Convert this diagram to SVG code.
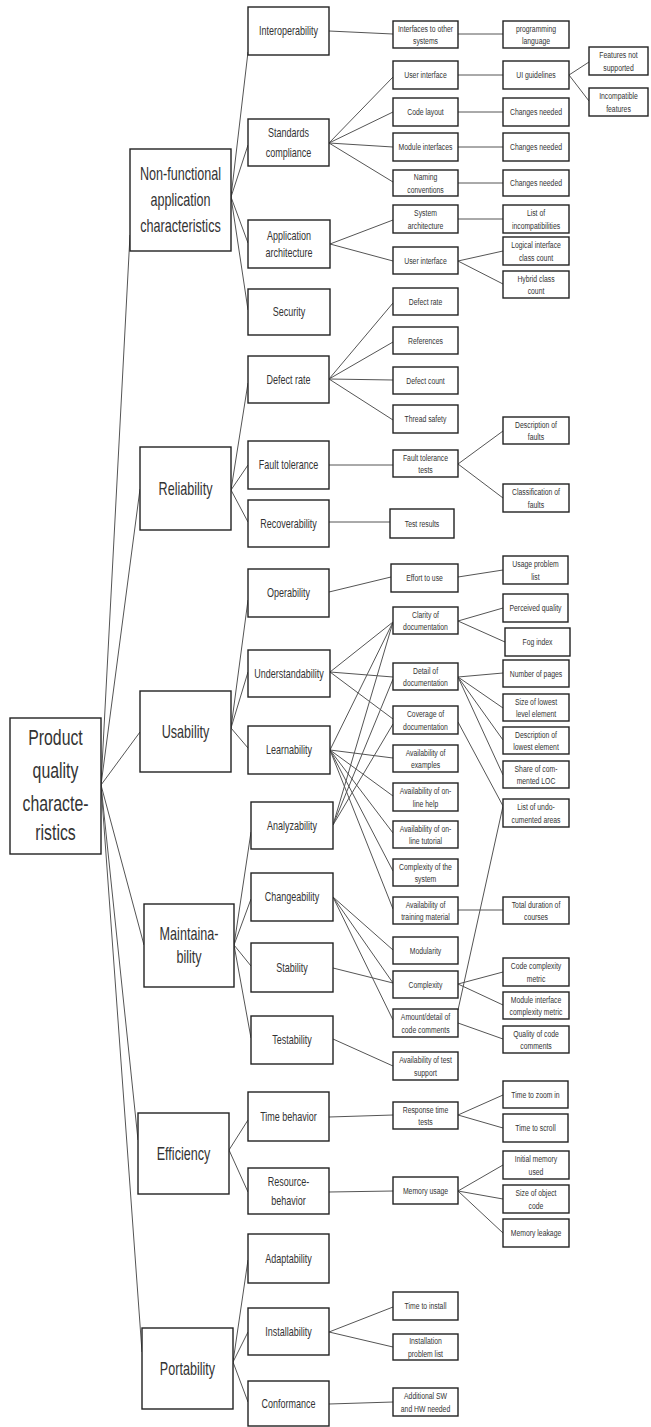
<svg xmlns="http://www.w3.org/2000/svg" width="651" height="1427" viewBox="0 0 651 1427">
<style>
rect{fill:#fff;stroke:#222;stroke-width:1.4}
text{font-family:"Liberation Sans",Arial,sans-serif;fill:#333;text-anchor:middle}
.t0{font-size:22px}
.t1{font-size:17.5px}
.t2{font-size:12.5px}
.t3{font-size:9.5px}
#connectors line{stroke:#555;stroke-width:1}
</style>
<rect x="0" y="0" width="651" height="1427" style="fill:#fff;stroke:none"/>
<g id="connectors">
<line x1="101" y1="785" x2="130" y2="235"/>
<line x1="101" y1="785" x2="140" y2="489"/>
<line x1="101" y1="785" x2="140" y2="732"/>
<line x1="101" y1="785" x2="144" y2="945"/>
<line x1="101" y1="785" x2="138" y2="1140"/>
<line x1="101" y1="785" x2="142" y2="1352"/>
<line x1="231" y1="197" x2="248" y2="52"/>
<line x1="231" y1="197" x2="248" y2="145"/>
<line x1="231" y1="197" x2="248" y2="243"/>
<line x1="231" y1="197" x2="248" y2="310"/>
<line x1="231" y1="490" x2="248" y2="383"/>
<line x1="231" y1="490" x2="248" y2="465"/>
<line x1="231" y1="490" x2="248" y2="522"/>
<line x1="231" y1="728" x2="248" y2="600"/>
<line x1="231" y1="728" x2="248" y2="672"/>
<line x1="231" y1="728" x2="248" y2="748"/>
<line x1="234" y1="945" x2="251" y2="832"/>
<line x1="234" y1="945" x2="251" y2="899"/>
<line x1="234" y1="945" x2="251" y2="966"/>
<line x1="234" y1="945" x2="251" y2="1038"/>
<line x1="229" y1="1150" x2="248" y2="1120"/>
<line x1="229" y1="1150" x2="248" y2="1192"/>
<line x1="233" y1="1362" x2="248" y2="1260"/>
<line x1="233" y1="1362" x2="248" y2="1332"/>
<line x1="233" y1="1362" x2="248" y2="1402"/>
<line x1="329" y1="31" x2="393" y2="34"/>
<line x1="329" y1="143" x2="393" y2="77"/>
<line x1="329" y1="143" x2="393" y2="112"/>
<line x1="329" y1="143" x2="393" y2="147"/>
<line x1="329" y1="143" x2="393" y2="182"/>
<line x1="330" y1="244" x2="393" y2="220"/>
<line x1="330" y1="244" x2="393" y2="261"/>
<line x1="329" y1="379" x2="393" y2="303"/>
<line x1="329" y1="379" x2="393" y2="342"/>
<line x1="329" y1="379" x2="393" y2="380"/>
<line x1="329" y1="379" x2="393" y2="420"/>
<line x1="329" y1="465" x2="393" y2="465"/>
<line x1="329" y1="522" x2="390" y2="522"/>
<line x1="329" y1="592" x2="391" y2="577"/>
<line x1="330" y1="672" x2="393" y2="622"/>
<line x1="330" y1="672" x2="393" y2="677"/>
<line x1="330" y1="672" x2="393" y2="719"/>
<line x1="330" y1="750" x2="393" y2="622"/>
<line x1="330" y1="750" x2="393" y2="758"/>
<line x1="330" y1="750" x2="393" y2="796"/>
<line x1="330" y1="750" x2="393" y2="833"/>
<line x1="330" y1="750" x2="393" y2="871"/>
<line x1="330" y1="750" x2="393" y2="909"/>
<line x1="333" y1="825" x2="393" y2="622"/>
<line x1="333" y1="825" x2="393" y2="679"/>
<line x1="333" y1="825" x2="393" y2="724"/>
<line x1="333" y1="897" x2="393" y2="950"/>
<line x1="333" y1="897" x2="393" y2="983"/>
<line x1="333" y1="897" x2="393" y2="1020"/>
<line x1="333" y1="968" x2="393" y2="983"/>
<line x1="333" y1="1039" x2="393" y2="1066"/>
<line x1="329" y1="1117" x2="393" y2="1115"/>
<line x1="329" y1="1192" x2="393" y2="1191"/>
<line x1="329" y1="1332" x2="393" y2="1307"/>
<line x1="329" y1="1332" x2="393" y2="1347"/>
<line x1="329" y1="1404" x2="393" y2="1402"/>
<line x1="458" y1="34" x2="503" y2="34"/>
<line x1="458" y1="75" x2="503" y2="75"/>
<line x1="458" y1="112" x2="503" y2="112"/>
<line x1="458" y1="147" x2="503" y2="147"/>
<line x1="458" y1="183" x2="503" y2="183"/>
<line x1="458" y1="219" x2="503" y2="219"/>
<line x1="458" y1="261" x2="503" y2="251"/>
<line x1="458" y1="261" x2="503" y2="284"/>
<line x1="458" y1="464" x2="503" y2="431"/>
<line x1="458" y1="464" x2="503" y2="498"/>
<line x1="458" y1="577" x2="503" y2="570"/>
<line x1="458" y1="621" x2="503" y2="608"/>
<line x1="458" y1="621" x2="505" y2="642"/>
<line x1="458" y1="677" x2="503" y2="673"/>
<line x1="458" y1="677" x2="503" y2="708"/>
<line x1="458" y1="677" x2="503" y2="740"/>
<line x1="458" y1="677" x2="503" y2="775"/>
<line x1="458" y1="722" x2="503" y2="806"/>
<line x1="458" y1="910" x2="503" y2="910"/>
<line x1="458" y1="1010" x2="503" y2="806"/>
<line x1="458" y1="984" x2="503" y2="972"/>
<line x1="458" y1="984" x2="503" y2="1005"/>
<line x1="458" y1="1023" x2="503" y2="1039"/>
<line x1="458" y1="1115" x2="503" y2="1095"/>
<line x1="458" y1="1115" x2="503" y2="1128"/>
<line x1="458" y1="1191" x2="503" y2="1165"/>
<line x1="458" y1="1191" x2="503" y2="1199"/>
<line x1="458" y1="1191" x2="503" y2="1233"/>
<line x1="569" y1="75" x2="589" y2="62"/>
<line x1="569" y1="75" x2="589" y2="101"/>
</g>
<g id="n-root"><rect x="10" y="718" width="91" height="136"/><text class="t0" transform="translate(55.5,786) scale(.72,1)"><tspan x="0" y="-41">Product</tspan><tspan x="0" y="-8">quality</tspan><tspan x="0" y="25">characte-</tspan><tspan x="0" y="54">ristics</tspan></text></g>
<g id="n-nonfunc"><rect x="130" y="149" width="101" height="102"/><text class="t1" transform="translate(180.5,200) scale(.72,1)"><tspan x="0" y="-20">Non-functional</tspan><tspan x="0" y="6">application</tspan><tspan x="0" y="32">characteristics</tspan></text></g>
<g id="n-reliability"><rect x="140" y="447" width="91" height="83"/><text class="t1" transform="translate(185.5,488.5) scale(.72,1)"><tspan x="0" y="6">Reliability</tspan></text></g>
<g id="n-usability"><rect x="140" y="691" width="91" height="81"/><text class="t1" transform="translate(185.5,731.5) scale(.72,1)"><tspan x="0" y="6">Usability</tspan></text></g>
<g id="n-maintainability"><rect x="144" y="904" width="90" height="83"/><text class="t1" transform="translate(189,945.5) scale(.72,1)"><tspan x="0" y="-5.5">Maintaina-</tspan><tspan x="0" y="17.5">bility</tspan></text></g>
<g id="n-efficiency"><rect x="138" y="1113" width="91" height="81"/><text class="t1" transform="translate(183.5,1153.5) scale(.72,1)"><tspan x="0" y="6">Efficiency</tspan></text></g>
<g id="n-portability"><rect x="142" y="1328" width="91" height="81"/><text class="t1" transform="translate(187.5,1368.5) scale(.72,1)"><tspan x="0" y="6">Portability</tspan></text></g>
<g id="n-interop"><rect x="248" y="7" width="81" height="48"/><text class="t2" transform="translate(288.5,31) scale(.72,1)"><tspan x="0" y="4.4">Interoperability</tspan></text></g>
<g id="n-standards"><rect x="248" y="119" width="81" height="47"/><text class="t2" transform="translate(288.5,142.5) scale(.72,1)"><tspan x="0" y="-5.6">Standards</tspan><tspan x="0" y="14.4">compliance</tspan></text></g>
<g id="n-apparch"><rect x="248" y="220" width="82" height="48"/><text class="t2" transform="translate(289,244) scale(.72,1)"><tspan x="0" y="-4.1">Application</tspan><tspan x="0" y="12.9">architecture</tspan></text></g>
<g id="n-security"><rect x="248" y="289" width="82" height="46"/><text class="t2" transform="translate(289,312) scale(.72,1)"><tspan x="0" y="4.4">Security</tspan></text></g>
<g id="n-defectrate"><rect x="248" y="356" width="81" height="47"/><text class="t2" transform="translate(288.5,379.5) scale(.72,1)"><tspan x="0" y="4.4">Defect rate</tspan></text></g>
<g id="n-faulttol"><rect x="248" y="441" width="81" height="48"/><text class="t2" transform="translate(288.5,465) scale(.72,1)"><tspan x="0" y="4.4">Fault tolerance</tspan></text></g>
<g id="n-recover"><rect x="248" y="500" width="81" height="47"/><text class="t2" transform="translate(288.5,523.5) scale(.72,1)"><tspan x="0" y="4.4">Recoverability</tspan></text></g>
<g id="n-operab"><rect x="248" y="569" width="81" height="48"/><text class="t2" transform="translate(288.5,593) scale(.72,1)"><tspan x="0" y="4.4">Operability</tspan></text></g>
<g id="n-understand"><rect x="248" y="650" width="82" height="47"/><text class="t2" transform="translate(289,673.5) scale(.72,1)"><tspan x="0" y="4.4">Understandability</tspan></text></g>
<g id="n-learn"><rect x="248" y="726" width="82" height="48"/><text class="t2" transform="translate(289,750) scale(.72,1)"><tspan x="0" y="4.4">Learnability</tspan></text></g>
<g id="n-analyz"><rect x="251" y="802" width="82" height="47"/><text class="t2" transform="translate(292,825.5) scale(.72,1)"><tspan x="0" y="4.4">Analyzability</tspan></text></g>
<g id="n-change"><rect x="251" y="873" width="82" height="48"/><text class="t2" transform="translate(292,897) scale(.72,1)"><tspan x="0" y="4.4">Changeability</tspan></text></g>
<g id="n-stab"><rect x="251" y="943" width="82" height="49"/><text class="t2" transform="translate(292,967.5) scale(.72,1)"><tspan x="0" y="4.4">Stability</tspan></text></g>
<g id="n-test"><rect x="251" y="1016" width="82" height="48"/><text class="t2" transform="translate(292,1040) scale(.72,1)"><tspan x="0" y="4.4">Testability</tspan></text></g>
<g id="n-timebeh"><rect x="248" y="1092" width="81" height="49"/><text class="t2" transform="translate(288.5,1116.5) scale(.72,1)"><tspan x="0" y="4.4">Time behavior</tspan></text></g>
<g id="n-resbeh"><rect x="248" y="1168" width="81" height="46"/><text class="t2" transform="translate(288.5,1191) scale(.72,1)"><tspan x="0" y="-5.1">Resource-</tspan><tspan x="0" y="13.9">behavior</tspan></text></g>
<g id="n-adapt"><rect x="248" y="1234" width="81" height="49"/><text class="t2" transform="translate(288.5,1258.5) scale(.72,1)"><tspan x="0" y="4.4">Adaptability</tspan></text></g>
<g id="n-install"><rect x="248" y="1308" width="81" height="47"/><text class="t2" transform="translate(288.5,1331.5) scale(.72,1)"><tspan x="0" y="4.4">Installability</tspan></text></g>
<g id="n-conform"><rect x="248" y="1381" width="81" height="45"/><text class="t2" transform="translate(288.5,1403.5) scale(.72,1)"><tspan x="0" y="4.4">Conformance</tspan></text></g>
<g id="n-ifother"><rect x="393" y="21" width="65" height="27"/><text class="t3" transform="translate(425.5,34.5) scale(.72,1)"><tspan x="0" y="-2.9">Interfaces to other</tspan><tspan x="0" y="9.6">systems</tspan></text></g>
<g id="n-ui1"><rect x="393" y="61" width="65" height="28"/><text class="t3" transform="translate(425.5,75) scale(.72,1)"><tspan x="0" y="3.3">User interface</tspan></text></g>
<g id="n-codelayout"><rect x="393" y="98" width="65" height="28"/><text class="t3" transform="translate(425.5,112) scale(.72,1)"><tspan x="0" y="3.3">Code layout</tspan></text></g>
<g id="n-modif"><rect x="393" y="133" width="65" height="28"/><text class="t3" transform="translate(425.5,147) scale(.72,1)"><tspan x="0" y="3.3">Module interfaces</tspan></text></g>
<g id="n-naming"><rect x="393" y="170" width="65" height="26"/><text class="t3" transform="translate(425.5,183) scale(.72,1)"><tspan x="0" y="-2.9">Naming</tspan><tspan x="0" y="9.6">conventions</tspan></text></g>
<g id="n-sysarch"><rect x="393" y="205" width="65" height="28"/><text class="t3" transform="translate(425.5,219) scale(.72,1)"><tspan x="0" y="-2.9">System</tspan><tspan x="0" y="9.6">architecture</tspan></text></g>
<g id="n-ui2"><rect x="393" y="247" width="65" height="27"/><text class="t3" transform="translate(425.5,260.5) scale(.72,1)"><tspan x="0" y="3.3">User interface</tspan></text></g>
<g id="n-defrate2"><rect x="393" y="288" width="65" height="27"/><text class="t3" transform="translate(425.5,301.5) scale(.72,1)"><tspan x="0" y="3.3">Defect rate</tspan></text></g>
<g id="n-refs"><rect x="393" y="327" width="65" height="27"/><text class="t3" transform="translate(425.5,340.5) scale(.72,1)"><tspan x="0" y="3.3">References</tspan></text></g>
<g id="n-defcount"><rect x="393" y="367" width="65" height="27"/><text class="t3" transform="translate(425.5,380.5) scale(.72,1)"><tspan x="0" y="3.3">Defect count</tspan></text></g>
<g id="n-thread"><rect x="393" y="405" width="65" height="28"/><text class="t3" transform="translate(425.5,419) scale(.72,1)"><tspan x="0" y="3.3">Thread safety</tspan></text></g>
<g id="n-ftt"><rect x="393" y="450" width="65" height="27"/><text class="t3" transform="translate(425.5,463.5) scale(.72,1)"><tspan x="0" y="-2.9">Fault tolerance</tspan><tspan x="0" y="9.6">tests</tspan></text></g>
<g id="n-testres"><rect x="390" y="509" width="64" height="29"/><text class="t3" transform="translate(422,523.5) scale(.72,1)"><tspan x="0" y="3.3">Test results</tspan></text></g>
<g id="n-effort"><rect x="391" y="564" width="67" height="28"/><text class="t3" transform="translate(424.5,578) scale(.72,1)"><tspan x="0" y="3.3">Effort to use</tspan></text></g>
<g id="n-clarity"><rect x="393" y="607" width="65" height="27"/><text class="t3" transform="translate(425.5,620.5) scale(.72,1)"><tspan x="0" y="-2.9">Clarity of</tspan><tspan x="0" y="9.6">documentation</tspan></text></g>
<g id="n-detail"><rect x="393" y="663" width="65" height="27"/><text class="t3" transform="translate(425.5,676.5) scale(.72,1)"><tspan x="0" y="-2.9">Detail of</tspan><tspan x="0" y="9.6">documentation</tspan></text></g>
<g id="n-coverage"><rect x="393" y="706" width="65" height="28"/><text class="t3" transform="translate(425.5,720) scale(.72,1)"><tspan x="0" y="-2.9">Coverage of</tspan><tspan x="0" y="9.6">documentation</tspan></text></g>
<g id="n-examples"><rect x="393" y="745" width="65" height="27"/><text class="t3" transform="translate(425.5,758.5) scale(.72,1)"><tspan x="0" y="-2.9">Availability of</tspan><tspan x="0" y="9.6">examples</tspan></text></g>
<g id="n-onlinehelp"><rect x="393" y="783" width="65" height="28"/><text class="t3" transform="translate(425.5,797) scale(.72,1)"><tspan x="0" y="-2.9">Availability of on-</tspan><tspan x="0" y="9.6">line help</tspan></text></g>
<g id="n-tutorial"><rect x="393" y="821" width="65" height="27"/><text class="t3" transform="translate(425.5,834.5) scale(.72,1)"><tspan x="0" y="-2.9">Availability of on-</tspan><tspan x="0" y="9.6">line tutorial</tspan></text></g>
<g id="n-complsys"><rect x="393" y="859" width="65" height="27"/><text class="t3" transform="translate(425.5,872.5) scale(.72,1)"><tspan x="0" y="-2.9">Complexity of the</tspan><tspan x="0" y="9.6">system</tspan></text></g>
<g id="n-training"><rect x="393" y="897" width="65" height="27"/><text class="t3" transform="translate(425.5,910.5) scale(.72,1)"><tspan x="0" y="-2.9">Availability of</tspan><tspan x="0" y="9.6">training material</tspan></text></g>
<g id="n-modularity"><rect x="393" y="937" width="65" height="27"/><text class="t3" transform="translate(425.5,950.5) scale(.72,1)"><tspan x="0" y="3.3">Modularity</tspan></text></g>
<g id="n-complexity"><rect x="393" y="971" width="65" height="27"/><text class="t3" transform="translate(425.5,984.5) scale(.72,1)"><tspan x="0" y="3.3">Complexity</tspan></text></g>
<g id="n-amount"><rect x="393" y="1009" width="65" height="28"/><text class="t3" transform="translate(425.5,1023) scale(.72,1)"><tspan x="0" y="-2.9">Amount/detail of</tspan><tspan x="0" y="9.6">code comments</tspan></text></g>
<g id="n-testsupport"><rect x="393" y="1052" width="65" height="28"/><text class="t3" transform="translate(425.5,1066) scale(.72,1)"><tspan x="0" y="-2.9">Availability of test</tspan><tspan x="0" y="9.6">support</tspan></text></g>
<g id="n-rtt"><rect x="393" y="1102" width="65" height="27"/><text class="t3" transform="translate(425.5,1115.5) scale(.72,1)"><tspan x="0" y="-2.9">Response time</tspan><tspan x="0" y="9.6">tests</tspan></text></g>
<g id="n-memusage"><rect x="393" y="1177" width="65" height="27"/><text class="t3" transform="translate(425.5,1190.5) scale(.72,1)"><tspan x="0" y="3.3">Memory usage</tspan></text></g>
<g id="n-timeinstall"><rect x="393" y="1292" width="65" height="28"/><text class="t3" transform="translate(425.5,1306) scale(.72,1)"><tspan x="0" y="3.3">Time to install</tspan></text></g>
<g id="n-instprob"><rect x="393" y="1334" width="65" height="26"/><text class="t3" transform="translate(425.5,1347) scale(.72,1)"><tspan x="0" y="-2.9">Installation</tspan><tspan x="0" y="9.6">problem list</tspan></text></g>
<g id="n-addsw"><rect x="393" y="1388" width="65" height="28"/><text class="t3" transform="translate(425.5,1402) scale(.72,1)"><tspan x="0" y="-2.9">Additional SW</tspan><tspan x="0" y="9.6">and HW needed</tspan></text></g>
<g id="n-proglang"><rect x="503" y="21" width="66" height="27"/><text class="t3" transform="translate(536,34.5) scale(.72,1)"><tspan x="0" y="-2.9">programming</tspan><tspan x="0" y="9.6">language</tspan></text></g>
<g id="n-uiguide"><rect x="503" y="61" width="66" height="28"/><text class="t3" transform="translate(536,75) scale(.72,1)"><tspan x="0" y="3.3">UI guidelines</tspan></text></g>
<g id="n-chg1"><rect x="503" y="98" width="66" height="28"/><text class="t3" transform="translate(536,112) scale(.72,1)"><tspan x="0" y="3.3">Changes needed</tspan></text></g>
<g id="n-chg2"><rect x="503" y="133" width="66" height="28"/><text class="t3" transform="translate(536,147) scale(.72,1)"><tspan x="0" y="3.3">Changes needed</tspan></text></g>
<g id="n-chg3"><rect x="503" y="170" width="66" height="26"/><text class="t3" transform="translate(536,183) scale(.72,1)"><tspan x="0" y="3.3">Changes needed</tspan></text></g>
<g id="n-incompat"><rect x="503" y="205" width="66" height="28"/><text class="t3" transform="translate(536,219) scale(.72,1)"><tspan x="0" y="-2.9">List of</tspan><tspan x="0" y="9.6">incompatibilities</tspan></text></g>
<g id="n-logical"><rect x="503" y="237" width="66" height="28"/><text class="t3" transform="translate(536,251) scale(.72,1)"><tspan x="0" y="-2.9">Logical interface</tspan><tspan x="0" y="9.6">class count</tspan></text></g>
<g id="n-hybrid"><rect x="503" y="271" width="66" height="27"/><text class="t3" transform="translate(536,284.5) scale(.72,1)"><tspan x="0" y="-2.9">Hybrid class</tspan><tspan x="0" y="9.6">count</tspan></text></g>
<g id="n-descfaults"><rect x="503" y="417" width="66" height="27"/><text class="t3" transform="translate(536,430.5) scale(.72,1)"><tspan x="0" y="-2.9">Description of</tspan><tspan x="0" y="9.6">faults</tspan></text></g>
<g id="n-classfaults"><rect x="503" y="484" width="66" height="28"/><text class="t3" transform="translate(536,498) scale(.72,1)"><tspan x="0" y="-2.9">Classification of</tspan><tspan x="0" y="9.6">faults</tspan></text></g>
<g id="n-usageprob"><rect x="503" y="556" width="65" height="28"/><text class="t3" transform="translate(535.5,570) scale(.72,1)"><tspan x="0" y="-2.9">Usage problem</tspan><tspan x="0" y="9.6">list</tspan></text></g>
<g id="n-perceived"><rect x="503" y="594" width="65" height="28"/><text class="t3" transform="translate(535.5,608) scale(.72,1)"><tspan x="0" y="3.3">Perceived quality</tspan></text></g>
<g id="n-fog"><rect x="505" y="628" width="65" height="28"/><text class="t3" transform="translate(537.5,642) scale(.72,1)"><tspan x="0" y="3.3">Fog index</tspan></text></g>
<g id="n-pages"><rect x="503" y="660" width="66" height="27"/><text class="t3" transform="translate(536,673.5) scale(.72,1)"><tspan x="0" y="3.3">Number of pages</tspan></text></g>
<g id="n-sizelowest"><rect x="503" y="694" width="66" height="27"/><text class="t3" transform="translate(536,707.5) scale(.72,1)"><tspan x="0" y="-2.9">Size of lowest</tspan><tspan x="0" y="9.6">level element</tspan></text></g>
<g id="n-desclowest"><rect x="503" y="727" width="66" height="27"/><text class="t3" transform="translate(536,740.5) scale(.72,1)"><tspan x="0" y="-2.9">Description of</tspan><tspan x="0" y="9.6">lowest element</tspan></text></g>
<g id="n-sharecom"><rect x="503" y="761" width="66" height="27"/><text class="t3" transform="translate(536,774.5) scale(.72,1)"><tspan x="0" y="-2.9">Share of com-</tspan><tspan x="0" y="9.6">mented LOC</tspan></text></g>
<g id="n-undoc"><rect x="503" y="799" width="66" height="28"/><text class="t3" transform="translate(536,813) scale(.72,1)"><tspan x="0" y="-2.9">List of undo-</tspan><tspan x="0" y="9.6">cumented areas</tspan></text></g>
<g id="n-courses"><rect x="503" y="897" width="66" height="27"/><text class="t3" transform="translate(536,910.5) scale(.72,1)"><tspan x="0" y="-2.9">Total duration of</tspan><tspan x="0" y="9.6">courses</tspan></text></g>
<g id="n-codecm"><rect x="503" y="958" width="66" height="28"/><text class="t3" transform="translate(536,972) scale(.72,1)"><tspan x="0" y="-2.9">Code complexity</tspan><tspan x="0" y="9.6">metric</tspan></text></g>
<g id="n-modcm"><rect x="503" y="992" width="66" height="27"/><text class="t3" transform="translate(536,1005.5) scale(.72,1)"><tspan x="0" y="-2.9">Module interface</tspan><tspan x="0" y="9.6">complexity metric</tspan></text></g>
<g id="n-qualcom"><rect x="503" y="1026" width="66" height="27"/><text class="t3" transform="translate(536,1039.5) scale(.72,1)"><tspan x="0" y="-2.9">Quality of code</tspan><tspan x="0" y="9.6">comments</tspan></text></g>
<g id="n-zoomin"><rect x="503" y="1081" width="65" height="27"/><text class="t3" transform="translate(535.5,1094.5) scale(.72,1)"><tspan x="0" y="3.3">Time to zoom in</tspan></text></g>
<g id="n-scroll"><rect x="503" y="1114" width="65" height="28"/><text class="t3" transform="translate(535.5,1128) scale(.72,1)"><tspan x="0" y="3.3">Time to scroll</tspan></text></g>
<g id="n-initmem"><rect x="503" y="1151" width="66" height="28"/><text class="t3" transform="translate(536,1165) scale(.72,1)"><tspan x="0" y="-2.9">Initial memory</tspan><tspan x="0" y="9.6">used</tspan></text></g>
<g id="n-sizeobj"><rect x="503" y="1185" width="66" height="28"/><text class="t3" transform="translate(536,1199) scale(.72,1)"><tspan x="0" y="-2.9">Size of object</tspan><tspan x="0" y="9.6">code</tspan></text></g>
<g id="n-leak"><rect x="503" y="1219" width="66" height="28"/><text class="t3" transform="translate(536,1233) scale(.72,1)"><tspan x="0" y="3.3">Memory leakage</tspan></text></g>
<g id="n-featns"><rect x="589" y="47" width="59" height="28"/><text class="t3" transform="translate(618.5,61) scale(.72,1)"><tspan x="0" y="-2.9">Features not</tspan><tspan x="0" y="9.6">supported</tspan></text></g>
<g id="n-incfeat"><rect x="589" y="88" width="59" height="28"/><text class="t3" transform="translate(618.5,102) scale(.72,1)"><tspan x="0" y="-2.9">Incompatible</tspan><tspan x="0" y="9.6">features</tspan></text></g>
</svg>
